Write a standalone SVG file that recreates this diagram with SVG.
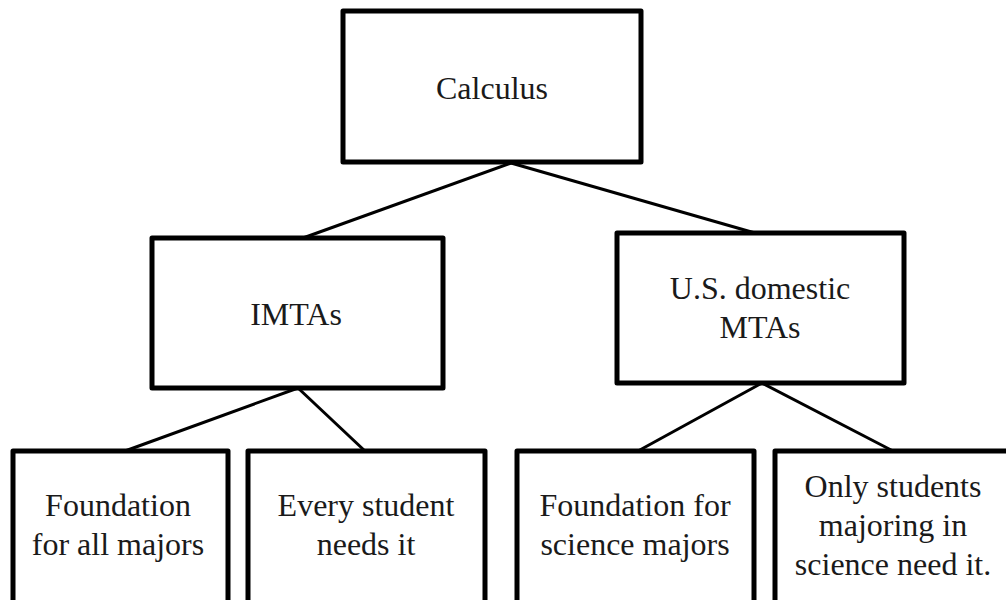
<svg xmlns="http://www.w3.org/2000/svg" width="1006" height="600" viewBox="0 0 1006 600">
  <style>
    .box { fill: #ffffff; stroke: #000000; stroke-width: 5; stroke-linejoin: round; }
    .link { stroke: #000000; stroke-width: 3; fill: none; }
    .label { font-family: "Liberation Serif", "Times New Roman", serif; font-size: 32px; fill: #1a1a1a; text-anchor: middle; }
  </style>
  <rect width="1006" height="600" fill="#ffffff"/>

  <!-- tree connectors -->
  <g id="connectors">
    <line class="link" x1="511" y1="163" x2="303" y2="238"/>
    <line class="link" x1="511" y1="163" x2="755" y2="233"/>
    <line class="link" x1="298" y1="388" x2="125" y2="451"/>
    <line class="link" x1="298" y1="388" x2="365" y2="451"/>
    <line class="link" x1="762" y1="383" x2="638" y2="451"/>
    <line class="link" x1="762" y1="383" x2="893" y2="451"/>
  </g>

  <g id="node-calculus">
    <rect class="box" x="343" y="11" width="298" height="151"/>
    <text class="label" x="492" y="99">Calculus</text>
  </g>

  <g id="node-imtas">
    <rect class="box" x="152" y="238" width="291" height="150"/>
    <text class="label" x="296" y="325">IMTAs</text>
  </g>

  <g id="node-us-mtas">
    <rect class="box" x="617" y="233" width="287" height="150"/>
    <text class="label" x="760" y="299">U.S. domestic</text>
    <text class="label" x="760" y="338">MTAs</text>
  </g>

  <g id="node-all-majors">
    <rect class="box" x="13" y="451" width="215" height="160"/>
    <text class="label" x="118" y="516">Foundation</text>
    <text class="label" x="118" y="555">for all majors</text>
  </g>

  <g id="node-every-student">
    <rect class="box" x="248" y="451" width="237" height="160"/>
    <text class="label" x="366" y="516">Every student</text>
    <text class="label" x="366" y="555">needs it</text>
  </g>

  <g id="node-science-majors">
    <rect class="box" x="517" y="451" width="237" height="160"/>
    <text class="label" x="635" y="516">Foundation for</text>
    <text class="label" x="635" y="555">science majors</text>
  </g>

  <g id="node-science-only">
    <rect class="box" x="775" y="451" width="240" height="160"/>
    <text class="label" x="893" y="497">Only students</text>
    <text class="label" x="893" y="536">majoring in</text>
    <text class="label" x="893" y="575">science need it.</text>
  </g>
</svg>
